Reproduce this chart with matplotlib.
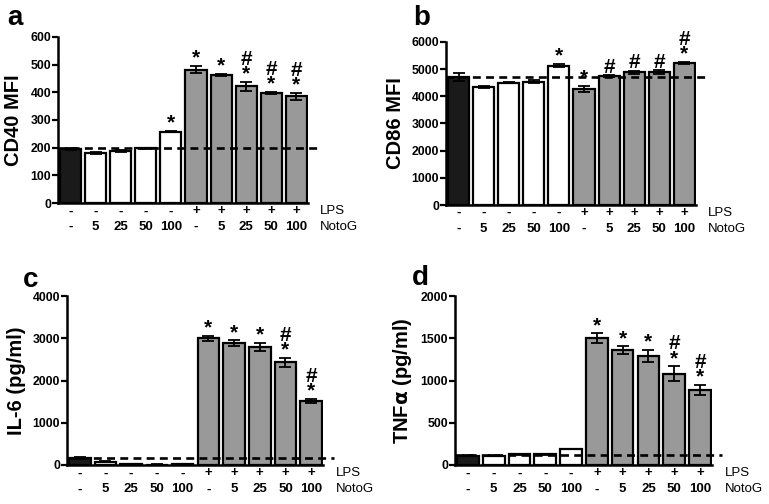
import numpy as np
import matplotlib.pyplot as plt
import matplotlib.transforms as mtransforms

plt.rcParams['font.family'] = ['Liberation Sans', 'DejaVu Sans']
plt.rcParams['font.weight'] = 'bold'

lps_labels = ['-', '-', '-', '-', '-', '+', '+', '+', '+', '+']
notog_labels = ['-', '5', '25', '50', '100', '-', '5', '25', '50', '100']
bar_colors = ['#1a1a1a', 'white', 'white', 'white', 'white',
              '#999999', '#999999', '#999999', '#999999', '#999999']

cd40 = [195, 180, 187, 198, 258, 482, 462, 422, 397, 385]
cd40_err = [3, 3, 4, 2, 3, 14, 3, 16, 5, 13]
cd40_marks = ['', '', '', '', '*', '*', '*', '#\n*', '#\n*', '#\n*']

cd86 = [4700, 4330, 4500, 4530, 5120, 4270, 4730, 4880, 4880, 5220]
cd86_err = [150, 40, 30, 60, 60, 120, 40, 60, 70, 30]
cd86_marks = ['', '', '', '', '*', '*', '#', '#', '#', '#\n*']

il6 = [175, 80, 20, 10, 30, 3000, 2880, 2800, 2430, 1520]
il6_err = [25, 10, 5, 5, 5, 60, 70, 100, 100, 50]
il6_marks = ['', '', '', '', '', '*', '*', '*', '#\n*', '#\n*']

tnf = [110, 110, 125, 125, 190, 1500, 1360, 1290, 1080, 890]
tnf_err = [5, 5, 5, 5, 5, 60, 45, 75, 90, 60]
tnf_marks = ['', '', '', '', '', '*', '*', '*', '#\n*', '#\n*']

panels = [
    ('a', cd40, cd40_err, cd40_marks, 'CD40 MFI', 600, 100, 198,
     [0.0754, 0.597, 0.325, 0.33], 9.9, (0.010, 0.950)),
    ('b', cd86, cd86_err, cd86_marks, 'CD86 MFI', 6000, 1000, 4700,
     [0.580, 0.593, 0.325, 0.324], 10.0, (0.538, 0.950)),
    ('c', il6, il6_err, il6_marks, 'IL-6 (pg/ml)', 4000, 1000, 170,
     [0.087, 0.0774, 0.333, 0.335], 9.9, (0.030, 0.431)),
    ('d', tnf, tnf_err, tnf_marks, r'TNF$\mathbf{\alpha}$ (pg/ml)', 2000, 500, 120,
     [0.5917, 0.0774, 0.334, 0.335], 9.85, (0.536, 0.434)),
]

fig = plt.figure(figsize=(7.69, 5.04), dpi=100)
x = np.arange(10)

for letter, vals, errs, marks, ylab, ymax, ystep, base, rect, dash_end, lpos in panels:
    ax = fig.add_axes(rect)
    ax.bar(x, vals, width=0.84, color=bar_colors, edgecolor='black',
           linewidth=1.6, zorder=2)
    ax.errorbar(x, vals, yerr=errs, fmt='none', ecolor='black',
                elinewidth=1.3, capsize=4, capthick=1.3, zorder=3)
    ax.plot([-0.5, dash_end], [base, base], ls=(0, (3, 2)),
            color='black', lw=1.9, zorder=4, clip_on=False)
    for i, m in enumerate(marks):
        if m:
            ax.text(x[i], vals[i] + errs[i] - ymax * 0.01, m, ha='center',
                    va='bottom', fontsize=15, linespacing=0.72, zorder=5)
    ax.set_xlim(-0.5, 9.46)
    ax.set_ylim(0, ymax)
    ax.set_yticks(np.arange(0, ymax + 1, ystep))
    ax.set_xticks([])
    ax.spines['top'].set_visible(False)
    ax.spines['right'].set_visible(False)
    ax.spines['left'].set_linewidth(1.8)
    ax.spines['bottom'].set_linewidth(1.8)
    ax.tick_params(axis='y', width=1.6, length=4, labelsize=8.8, pad=1)
    for lbl in ax.get_yticklabels():
        lbl.set_fontweight('bold')
    ax.set_ylabel(ylab, fontsize=14.5, fontweight='bold', labelpad=5)
    trans = mtransforms.blended_transform_factory(ax.transData, ax.transAxes)
    for i in range(10):
        ax.text(x[i], -0.05, lps_labels[i], transform=trans, ha='center',
                va='center', fontsize=9.5)
        ax.text(x[i], -0.145, notog_labels[i], transform=trans, ha='center',
                va='center', fontsize=9.5)
    ax.text(9.95, -0.05, 'LPS', transform=trans, ha='left', va='center',
            fontsize=9.5, fontweight='normal')
    ax.text(9.95, -0.145, 'NotoG', transform=trans, ha='left', va='center',
            fontsize=9.5, fontweight='normal')
    fig.text(lpos[0], lpos[1], letter, fontsize=20, fontweight='bold',
             va='baseline', ha='left')

plt.savefig('out.png', dpi=100)
